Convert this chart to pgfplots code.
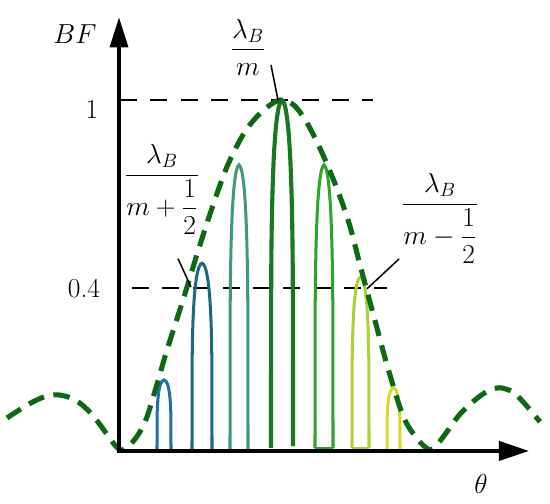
\documentclass[border=0pt]{standalone}
\usepackage{amsmath}
\usepackage{fix-cm}
\usepackage{pgfplots}
\pgfplotsset{compat=1.18}
\usetikzlibrary{arrows.meta}

\definecolor{env}{RGB}{15,105,20}
\definecolor{cA}{RGB}{31,111,168}
\definecolor{cB}{RGB}{28,104,128}
\definecolor{cC}{RGB}{60,155,115}
\definecolor{cD}{RGB}{25,120,35}
\definecolor{cE}{RGB}{45,165,45}
\definecolor{cF}{RGB}{170,210,55}
\definecolor{cG}{RGB}{215,215,45}

\tikzset{lbl/.style={font=\fontsize{20}{24}\selectfont, inner sep=0pt}}

\begin{document}
\begin{tikzpicture}
\begin{axis}[
    scale only axis,
    width=400pt, height=366.5pt,
    xmin=-119, xmax=431, ymin=-0.151, ymax=1.285,
    hide axis, clip=false,
    lobe/.style={line width=2.2pt, smooth, tension=0.5, no marks},
]
% keep the whole frame as the picture's extent
\path (axis cs:-119,-0.151) rectangle (axis cs:431,1.285);

% reference levels
\addplot[black, line width=1.1pt, dash pattern=on 12.5pt off 9.5pt, no marks]
    coordinates {(1,1) (254,1)};
\addplot[black, line width=1.1pt, dash pattern=on 12.5pt off 9.5pt, no marks]
    coordinates {(13,0.464) (268,0.464)};

% narrow lobes
\addplot[lobe, cA] coordinates {(38,0) (38.14,0.099) (38.7,0.140) (39.75,0.168) (41.15,0.187) (42.9,0.198) (45,0.202) (47.1,0.198) (48.85,0.187) (50.25,0.168) (51.3,0.140) (51.86,0.099) (52,0)};
\addplot[lobe, cB] coordinates {(73,0) (73.2,0.263) (74,0.371) (75.5,0.446) (77.5,0.494) (80,0.524) (83,0.535) (86,0.524) (88.5,0.494) (90.5,0.446) (92,0.371) (92.8,0.263) (93,0)};
\addplot[lobe, cC] coordinates {(111,0) (111.18,0.400) (111.9,0.566) (113.25,0.680) (115.05,0.753) (117.3,0.798) (120,0.815) (122.7,0.798) (124.95,0.753) (126.75,0.680) (128.1,0.566) (128.82,0.400) (129,0)};
\addplot[lobe, cD, line width=3pt] coordinates {(152,0.009) (152.22,0.491) (153.1,0.694) (154.75,0.834) (156.95,0.924) (159.7,0.979) (163,1) (166.3,0.979) (169.05,0.924) (171.25,0.834) (172.9,0.694) (173.78,0.491) (174,0.014)};
\addplot[lobe, cE] coordinates {(196,0.008) (196.18,0.400) (196.9,0.566) (198.25,0.680) (200.05,0.753) (202.3,0.798) (205,0.815) (207.7,0.798) (209.95,0.753) (211.75,0.680) (213.1,0.566) (213.82,0.400) (214,0.008)};
\addplot[cE, line width=2.2pt, no marks] coordinates {(196,0.008) (214,0.008)};
\addplot[lobe, cF] coordinates {(233,0.008) (233.17,0.244) (233.85,0.344) (235.1,0.414) (236.8,0.458) (238.95,0.486) (241.5,0.496) (244.05,0.486) (246.2,0.458) (247.9,0.414) (249.15,0.344) (249.83,0.244) (250,0.008)};
\addplot[cF, line width=2.2pt, no marks] coordinates {(233,0.008) (250,0.008)};
\addplot[lobe, cG] coordinates {(268,0) (268.13,0.088) (268.65,0.125) (269.63,0.150) (270.93,0.166) (272.55,0.176) (274.5,0.18) (276.45,0.176) (278.08,0.166) (279.38,0.150) (280.35,0.125) (280.87,0.088) (281,0)};

% envelope
\addplot[env, line width=3.7pt, dash pattern=on 12pt off 7pt, smooth, no marks] coordinates {
    (-112,0.094) (-98,0.12) (-86,0.14) (-74,0.155) (-62,0.16) (-50,0.153)
    (-40,0.138) (-30,0.113) (-19,0.075) (-9,0.035) (-2,0.01) (4,0.002)
    (11,0.017) (20,0.05) (28,0.097) (38,0.19) (48,0.288) (64,0.43)
    (78,0.56) (91,0.675) (108,0.81) (126,0.91) (144,0.97) (161,1.0)
    (175,0.985) (188,0.935) (203,0.85) (219,0.74) (231,0.64) (241,0.53)
    (258,0.35) (268,0.245) (284,0.1) (298,0.035) (311,0.003) (320,0.025)
    (328,0.055) (341,0.105) (358,0.15) (370,0.172) (381,0.18) (394,0.168)
    (405,0.137) (411,0.117) (421,0.083)};

% axes
\draw[line width=2.8pt, {Triangle[length=22pt,width=13pt]}-{Triangle[length=22pt,width=14pt]}]
    (axis cs:0,1.236) -- (axis cs:0,0) -- (axis cs:410,0);

% labels
\node[lbl] at (axis cs:-44,1.188) {$BF$};
\node[lbl] at (axis cs:362,-0.094) {$\theta$};
\node[lbl] at (axis cs:-27,0.974) {1};
\node[lbl] at (axis cs:-35,0.464) {0.4};

\node[lbl] at (axis cs:129,1.150) {$\displaystyle\frac{\lambda_B}{m}$};
\node[lbl] at (axis cs:43,0.745) {$\displaystyle\frac{\lambda_B}{m+\dfrac{1}{2}}$};
\node[lbl] at (axis cs:321,0.662) {$\displaystyle\frac{\lambda_B}{m-\dfrac{1}{2}}$};

\draw[black, line width=1.1pt] (axis cs:152,1.100) -- (axis cs:159,1.0);
\draw[black, line width=1.1pt] (axis cs:59,0.548) -- (axis cs:72,0.467);
\draw[black, line width=1.1pt] (axis cs:280,0.547) -- (axis cs:248,0.462);
\end{axis}
\end{tikzpicture}
\end{document}
